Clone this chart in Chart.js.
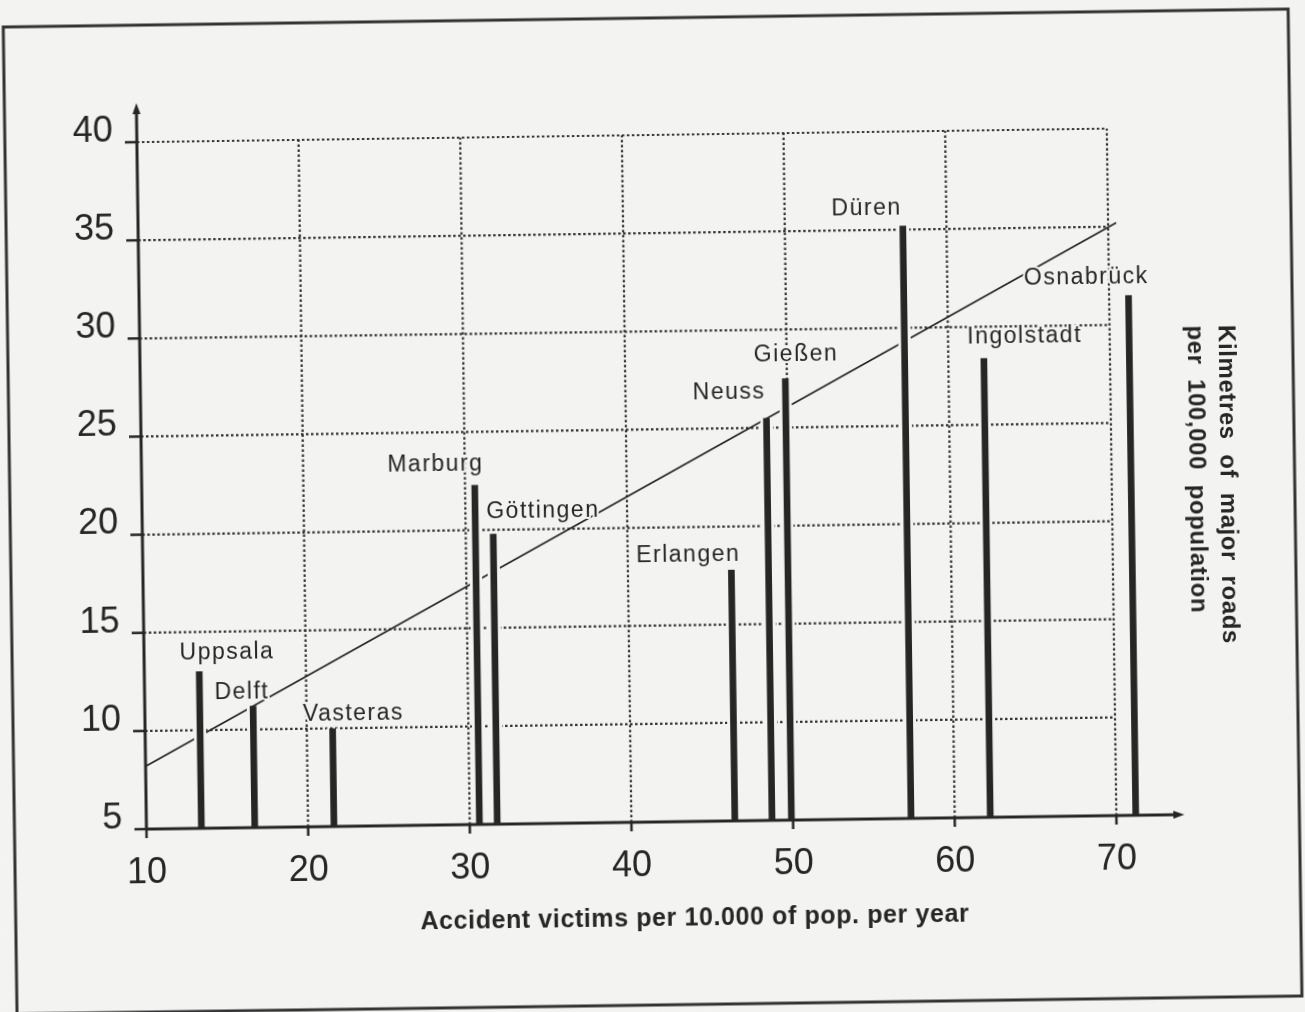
<!DOCTYPE html>
<html>
<head>
<meta charset="utf-8">
<title>Major roads vs accident victims</title>
<script src="https://cdn.jsdelivr.net/npm/chart.js@4.4.1/dist/chart.umd.min.js"></script>
<style>
  html, body { margin: 0; padding: 0; background: #f3f3f1; overflow: hidden; }
  #wrap { width: 1305px; height: 1012px; transform: rotate(-0.8deg); transform-origin: 50% 50%; }
  canvas { display: block; }
</style>
</head>
<body>
<div id="wrap"><canvas id="chart" width="1305" height="1012"></canvas></div>
<script>
// data
const cities = ['Uppsala', 'Delft', 'Vasteras', 'Marburg', 'Göttingen', 'Erlangen', 'Neuss', 'Gießen', 'Düren', 'Ingolstadt', 'Osnabrück'];
const victims = [13.4, 16.7, 21.6, 30.6, 31.7, 46.4, 48.7, 49.9, 57.3, 62.2, 71.2];
const roadKm = [13.0, 11.2, 10.0, 22.3, 19.8, 17.8, 25.5, 27.5, 35.2, 28.4, 31.5];
const trendX = [10, 70.5];
const trendY = [8.2, 35.2];
const xTicks = [10, 20, 30, 40, 50, 60, 70];
const yTicks = [5, 10, 15, 20, 25, 30, 35, 40];
const xTitle = 'Accident victims per 10.000 of pop. per year';
const yTitle = ['Kilmetres  of  major  roads', 'per  100,000  population'];

const PAPER = '#f3f3f1';
const INK = '#262626';
const FONT = "'Liberation Sans', Arial, sans-serif";

// label nudges in px from the top of each bar
const labelNudge = [[28, -18], [-11, -14], [21, -14], [-39, -21], [50, -22], [-43, -15], [-37, -26], [11, -24], [-36, -18], [41, -21], [-42, -18]];

function seg(ctx, x1, y1, x2, y2) {
  ctx.beginPath();
  ctx.moveTo(x1, y1);
  ctx.lineTo(x2, y2);
  ctx.stroke();
}

const paperPlugin = {
  id: 'paper',
  beforeDraw(chart) {
    const { ctx, width, height } = chart;
    ctx.save();
    ctx.fillStyle = PAPER;
    ctx.fillRect(0, 0, width, height);
    ctx.strokeStyle = '#333';
    ctx.lineWidth = 3;
    ctx.strokeRect(10, 18, 1285, 987);
    ctx.restore();
  },
};

const gridPlugin = {
  id: 'dottedGrid',
  beforeDatasetsDraw(chart) {
    const { ctx, scales: { x, y } } = chart;
    const top = y.getPixelForValue(yTicks[yTicks.length - 1]);
    const bottom = y.getPixelForValue(yTicks[0]);
    const left = x.getPixelForValue(xTicks[0]);
    const right = x.getPixelForValue(xTicks[xTicks.length - 1]);
    ctx.save();
    ctx.strokeStyle = '#333';
    ctx.lineWidth = 2.2;
    ctx.setLineDash([2.5, 2.5]);
    xTicks.slice(1).forEach(v => {
      const px = x.getPixelForValue(v);
      seg(ctx, px, bottom, px, top);
    });
    yTicks.slice(1).forEach(v => {
      const py = y.getPixelForValue(v);
      seg(ctx, left, py, right, py);
    });
    ctx.restore();
  },
};

const axesPlugin = {
  id: 'arrowAxes',
  afterDatasetsDraw(chart) {
    const { ctx, scales: { x, y } } = chart;
    const x0 = x.getPixelForValue(xTicks[0]);
    const y0 = y.getPixelForValue(yTicks[0]);
    const xEnd = x.getPixelForValue(xTicks[xTicks.length - 1]) + 68;
    const yEnd = y.getPixelForValue(yTicks[yTicks.length - 1]) - 39;
    ctx.save();
    ctx.strokeStyle = INK;
    ctx.fillStyle = INK;
    ctx.lineWidth = 3;
    seg(ctx, x0 - 1, y0, xEnd - 8, y0);
    seg(ctx, x0, y0 + 1, x0, yEnd + 8);
    ctx.lineWidth = 2.5;
    yTicks.forEach(v => {
      const py = y.getPixelForValue(v);
      seg(ctx, x0 - 12, py, x0, py);
    });
    xTicks.forEach(v => {
      const px = x.getPixelForValue(v);
      seg(ctx, px, y0, px, y0 + 9);
    });
    // arrow heads
    ctx.beginPath();
    ctx.moveTo(xEnd, y0);
    ctx.lineTo(xEnd - 11, y0 - 4);
    ctx.lineTo(xEnd - 11, y0 + 4);
    ctx.closePath();
    ctx.fill();
    ctx.beginPath();
    ctx.moveTo(x0, yEnd);
    ctx.lineTo(x0 - 4, yEnd + 11);
    ctx.lineTo(x0 + 4, yEnd + 11);
    ctx.closePath();
    ctx.fill();
    ctx.restore();
  },
};

const labelPlugin = {
  id: 'cityLabels',
  afterDraw(chart) {
    const { ctx, chartArea } = chart;
    const bars = chart.getDatasetMeta(0).data;
    ctx.save();
    ctx.font = `23px ${FONT}`;
    ctx.letterSpacing = '1.5px';
    ctx.textAlign = 'center';
    ctx.textBaseline = 'middle';
    ctx.lineJoin = 'round';
    bars.forEach((bar, i) => {
      const [dx, dy] = labelNudge[i];
      const tx = bar.x + dx;
      const ty = Math.min(bar.y, bar.base) + dy;
      ctx.strokeStyle = PAPER;
      ctx.lineWidth = 4;
      ctx.strokeText(cities[i], tx, ty);
      ctx.fillStyle = INK;
      ctx.fillText(cities[i], tx, ty);
    });

    // x axis title
    ctx.font = `bold 25px ${FONT}`;
    ctx.letterSpacing = '0.6px';
    ctx.fillText(xTitle, chartArea.left + chartArea.width * 0.564, 919);

    // y axis title, rotated clockwise on the right
    ctx.font = `bold 24px ${FONT}`;
    ctx.letterSpacing = '0.6px';
    ctx.textAlign = 'left';
    [[1228, yTitle[0]], [1197, yTitle[1]]].forEach(([cx, t]) => {
      ctx.save();
      ctx.translate(cx, 333);
      ctx.rotate(Math.PI / 2);
      ctx.fillText(t, 0, 0);
      ctx.restore();
    });
    ctx.restore();
  },
};

new Chart(document.getElementById('chart'), {
  type: 'bar',
  data: {
    datasets: [
      {
        type: 'bar',
        data: cities.map((c, i) => ({ x: victims[i], y: [yTicks[0], roadKm[i]] })),
        backgroundColor: INK,
        borderColor: PAPER,
        borderWidth: { left: 3, right: 3, top: 0, bottom: 0 },
        borderSkipped: false,
        barThickness: 12,
        clip: false,
        order: 0,
      },
      {
        type: 'line',
        data: trendX.map((v, i) => ({ x: v, y: trendY[i] })),
        borderColor: '#222',
        borderWidth: 1.6,
        pointRadius: 0,
        fill: false,
        clip: false,
        order: 1,
      },
    ],
  },
  options: {
    responsive: false,
    animation: false,
    devicePixelRatio: 1,
    layout: { padding: { left: 0, top: 135, right: 193, bottom: 90 } },
    plugins: { legend: { display: false }, tooltip: { enabled: false } },
    scales: {
      x: {
        type: 'linear',
        offset: false,
        min: xTicks[0],
        max: xTicks[xTicks.length - 1],
        afterBuildTicks: s => { s.ticks = xTicks.map(v => ({ value: v })); },
        afterFit: s => { s.height = 100; },
        grid: { display: false, drawTicks: false, offset: false },
        border: { display: false },
        ticks: { font: { family: FONT, size: 36 }, color: INK, padding: 22, maxRotation: 0, autoSkip: false },
      },
      y: {
        type: 'linear',
        min: yTicks[0],
        max: yTicks[yTicks.length - 1],
        afterBuildTicks: s => { s.ticks = yTicks.map(v => ({ value: v })); },
        afterFit: s => { s.width = 142; },
        grid: { display: false, drawTicks: false },
        border: { display: false },
        ticks: { font: { family: FONT, size: 36 }, color: INK, padding: 24, labelOffset: -11, autoSkip: false },
      },
    },
  },
  plugins: [paperPlugin, gridPlugin, axesPlugin, labelPlugin],
});
</script>
</body>
</html>
